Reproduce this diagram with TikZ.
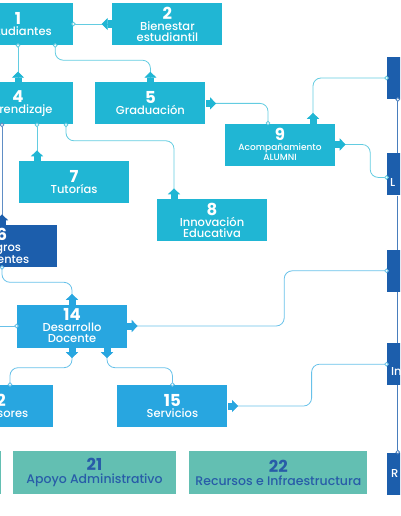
\documentclass[tikz,border=0pt]{standalone}
\usepackage{fontspec}
\setmainfont{Poppins}[UprightFont=* Medium, BoldFont=* Bold]
\usetikzlibrary{positioning, arrows.meta}

\definecolor{boxcyan}{RGB}{32,182,212}
\definecolor{boxblue}{RGB}{40,166,224}
\definecolor{boxnavy}{RGB}{28,94,172}
\definecolor{boxteal}{RGB}{99,191,178}
\definecolor{tealtext}{RGB}{40,92,168}

\newcommand{\boxnum}[1]{{\fontsize{16.5}{16.5}\selectfont\bfseries #1}}

\begin{document}
\begin{tikzpicture}[x=1pt, y=1pt, node distance=37pt and 39pt]
    \tikzset{
      box/.style={
        rectangle, fill=boxcyan, text=white,
        minimum width=110pt, minimum height=42pt, inner sep=0pt,
        align=center, font=\fontsize{11.5}{11}\selectfont
      },
      lightbox/.style={box, fill=boxblue},
      darkbox/.style={box, fill=boxnavy},
      tealbox/.style={box, fill=boxteal, text=tealtext, minimum width=163pt, minimum height=43pt,
        font=\fontsize{12.5}{13}\selectfont},
      link/.style={
        draw=#1!70, line width=0.8pt, rounded corners=8pt, shorten >=-2pt,
        arrows={{Rectangle[length=4.5pt, width=7pt, sep=0pt, color=#1] Triangle[reversed, length=6pt, width=12pt, color=#1]}-{Circle[length=4.5pt, fill=white]}}
      }
    }
    \useasboundingbox (0,0) rectangle (400,-516);
    \clip (0,0) rectangle (400,-516);

    % Top rows
    \node[box] (b1) at (18,-24) {\boxnum{1}\\Estudiantes};
    \node[box, right=of b1] (b2) {\boxnum{2}\\Bienestar\\estudiantil};
    \node[box, below=of b1] (b4) {\boxnum{4}\\Aprendizaje};
    \node[box, right=22pt of b4] (b5) {\boxnum{5}\\Graduación};
    \node[box, font=\fontsize{9}{10}\selectfont] (b9) at (280,-144.5) {\boxnum{9}\\Acompañamiento\\ALUMNI};
    \node[box] (b7) at (74,-182) {\boxnum{7}\\Tutorías};
    \node[box] (b8) at (212,-220) {\boxnum{8}\\Innovación\\Educativa};
    \node[darkbox] (b6) at (2,-246) {\boxnum{6}\\Logros\\Docentes};

    % Teachers
    \node[lightbox, minimum height=43pt] (b14) at (72,-326) {\boxnum{14}\\Desarrollo\\Docente};
    \node[lightbox] (b12) at (-2,-406) {\boxnum{12}\\Profesores};
    \node[lightbox, right=64pt of b12] (b15) {\boxnum{15}\\Servicios};

    % Bottom row
    \node[tealbox] (b21) at (94.5,-472.5) {\boxnum{21}\\Apoyo Administrativo};
    \node[tealbox, minimum width=178pt, right=13pt of b21] (b22) {\boxnum{22}\\Recursos e Infraestructura};
    \node[tealbox, left=12pt of b21] (b20) {};

    % Right column
    \node[darkbox] (r1) at (442,-78) {};
    \node[darkbox, text width=104pt, align=left, below=54pt of r1] (r2) {\boxnum{\phantom{0}}\\L};
    \node[darkbox, below=54pt of r2] (r3) {};
    \node[darkbox, text width=102pt, align=left, below=51pt of r3] (r4) {\boxnum{\phantom{0}}\\In};
    \node[darkbox, text width=102pt, align=left, below=67pt of r4] (r5) {R};
    \coordinate (offl) at (-20,-326);

    % Connectors
    \draw[link=boxcyan] (b2.west) -- (b1.east);
    \draw[link=boxcyan] (b4.north) -- (b1.south);
    \draw[link=boxcyan] (b5.north) -- ++(0,22) -| ([xshift=-18pt]b1.south east);
    \draw[link=boxcyan] (b5.east) -| ([xshift=-12pt]b9.north);
    \draw[link=boxnavy] (b6.north) -- (b6.north |- b4.south);
    \draw[link=boxcyan] ([xshift=19pt]b4.south |- b7.north) -- ([xshift=19pt]b4.south);
    \draw[link=boxcyan] ([xshift=-38pt]b8.north) -- ++(0,58) -| ([xshift=48pt]b4.south);
    \draw[link=boxcyan] ([xshift=33pt]b9.north) |- (r1.west);
    \draw[link=boxcyan] (b9.east) -- ++(35,0) |- ([yshift=-3pt]r2.west);
    \draw[link=boxblue] (b14.north) -- ++(0,22) -| (b6.south);
    \draw[link=boxblue] (b14.east) -- ++(157,0) |- (r3.west);
    \draw[link=boxblue] (offl) -- (b14.west);
    \draw[link=boxblue] (b14.south) -- ++(0,-20) -| ([xshift=12pt]b12.north);
    \draw[link=boxblue] ([xshift=35pt]b14.south) -- ++(0,-20) -| (b15.north);
    \draw[link=boxblue] (b15.east) -- ++(84,0) |- (r4.west);

    % Right spine
    \draw[boxnavy!80, line width=0.8pt, shorten <=-2pt, {Circle[length=4.5pt, fill=white]}-] ([xshift=11pt]r1.south west) -- ([xshift=11pt]r2.north west);
    \draw[boxnavy!80, line width=0.8pt] ([xshift=11pt]r2.south west) -- ([xshift=11pt]r3.north west);
    \draw[boxnavy!80, line width=0.8pt] ([xshift=11pt]r3.south west) -- ([xshift=11pt]r4.north west);
    \draw[boxnavy!80, line width=0.8pt, shorten >=-2pt, -{Circle[length=4.5pt, fill=white]}] ([xshift=11pt]r4.south west) -- ([xshift=11pt]r5.north west);
\end{tikzpicture}
\end{document}
